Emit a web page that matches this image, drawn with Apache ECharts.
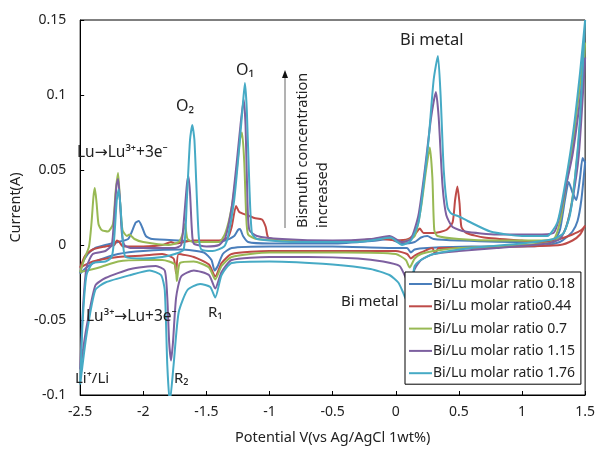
<!DOCTYPE html>
<html>
<head>
<meta charset="utf-8">
<script src="https://cdn.jsdelivr.net/npm/echarts@6/dist/echarts.min.js"></script>
<style>
  html, body { margin: 0; padding: 0; background: #fff; }
  #chart { width: 598px; height: 450px; }
</style>
</head>
<body>
<div id="chart"></div>
<script>
// each loop: cathodic sweep 1.5 -> -2.5, then anodic sweep -2.5 -> 1.5  [potential V, current A]
const ratio018 = [
  [1.5,0.055],[1.47,0.03],[1.44,0.016],[1.4,0.009],[1.35,0.005],[1.3,0.002],[1.2,0.0],[1.0,-0.001],[0.6,-0.001],
  [0.25,-0.002],[0.15,-0.003],[0.12,-0.005],[0.09,-0.002],[0.0,-0.002],[-0.5,-0.001],[-1.0,-0.001],[-1.3,-0.002],
  [-1.37,-0.006],[-1.41,-0.014],[-1.435,-0.017],[-1.46,-0.01],[-1.52,-0.005],[-1.7,-0.003],[-2.0,-0.004],
  [-2.2,-0.006],[-2.35,-0.01],[-2.45,-0.015],[-2.5,-0.019],
  [-2.48,-0.012],[-2.44,-0.006],[-2.38,-0.002],[-2.3,0.0],[-2.2,0.002],[-2.12,0.004],[-2.09,0.009],[-2.06,0.015],
  [-2.036,0.016],[-2.01,0.012],[-1.98,0.006],[-1.93,0.004],[-1.7,0.003],[-1.5,0.002],[-1.35,0.003],[-1.28,0.006],
  [-1.25,0.01],[-1.234,0.0106],[-1.21,0.006],[-1.17,0.002],[-1.0,0.001],[-0.5,0.001],[-0.15,0.003],[-0.05,0.004],
  [0.05,0.001],[0.15,0.002],[0.2,0.005],[0.25,0.006],[0.3,0.004],[0.5,0.003],[1.0,0.002],[1.25,0.003],[1.3,0.01],
  [1.34,0.03],[1.37,0.042],[1.4,0.035],[1.43,0.03],[1.46,0.045],[1.48,0.058],[1.5,0.055]
];
const ratio044 = [
  [1.5,0.013],[1.46,0.007],[1.4,0.003],[1.3,0.0],[1.0,-0.001],[0.5,-0.002],[0.34,-0.002],[0.31,-0.006],[0.29,-0.002],
  [0.2,-0.005],[0.15,-0.007],[0.12,-0.009],[0.09,-0.006],[0.0,-0.004],[-0.5,-0.004],[-1.0,-0.004],[-1.3,-0.006],
  [-1.38,-0.012],[-1.43,-0.021],[-1.48,-0.013],[-1.6,-0.008],[-1.72,-0.006],[-1.74,-0.019],[-1.76,-0.009],
  [-1.85,-0.006],[-2.0,-0.007],[-2.2,-0.008],[-2.4,-0.011],[-2.5,-0.015],
  [-2.46,-0.007],[-2.4,-0.003],[-2.3,-0.001],[-2.23,0.0],[-2.21,0.003],[-2.19,0.002],[-2.16,-0.001],[-2.0,-0.001],
  [-1.85,0.0],[-1.78,0.002],[-1.75,0.001],[-1.6,0.003],[-1.4,0.003],[-1.33,0.005],[-1.3,0.012],[-1.265,0.026],
  [-1.24,0.022],[-1.18,0.02],[-1.12,0.018],[-1.06,0.017],[-1.03,0.012],[-1.01,0.005],[-0.9,0.003],[-0.5,0.002],
  [-0.1,0.004],[0.0,0.003],[0.1,0.004],[0.16,0.008],[0.19,0.011],[0.22,0.008],[0.3,0.008],[0.4,0.01],[0.45,0.015],
  [0.47,0.03],[0.488,0.039],[0.505,0.028],[0.52,0.012],[0.56,0.008],[0.7,0.005],[1.0,0.003],[1.2,0.002],
  [1.3,0.004],[1.4,0.007],[1.47,0.01],[1.5,0.013]
];
const ratio07 = [
  [1.5,0.135],[1.46,0.08],[1.42,0.045],[1.38,0.022],[1.33,0.008],[1.25,0.002],[1.0,0.0],[0.5,-0.002],[0.3,-0.004],
  [0.2,-0.006],[0.15,-0.009],[0.11,-0.015],[0.08,-0.01],[0.0,-0.006],[-0.4,-0.005],[-1.0,-0.005],[-1.3,-0.008],
  [-1.38,-0.014],[-1.43,-0.023],[-1.48,-0.015],[-1.6,-0.011],[-1.71,-0.012],[-1.734,-0.024],[-1.75,-0.013],
  [-1.85,-0.01],[-2.0,-0.01],[-2.2,-0.011],[-2.35,-0.015],[-2.5,-0.018],
  [-2.47,-0.01],[-2.43,-0.001],[-2.41,0.015],[-2.395,0.032],[-2.384,0.038],[-2.37,0.028],[-2.355,0.014],
  [-2.33,0.01],[-2.28,0.009],[-2.24,0.014],[-2.22,0.035],[-2.2,0.048],[-2.185,0.03],[-2.165,0.01],[-2.13,0.006],
  [-2.11,0.007],[-2.07,0.004],[-2.0,0.002],[-1.8,0.0],[-1.72,0.002],[-1.69,0.007],[-1.67,0.014],[-1.65,0.004],
  [-1.6,0.002],[-1.4,0.002],[-1.35,0.008],[-1.3,0.025],[-1.26,0.05],[-1.235,0.07],[-1.218,0.075],[-1.2,0.055],
  [-1.185,0.02],[-1.17,0.007],[-1.1,0.004],[-0.9,0.003],[-0.5,0.002],[-0.15,0.004],[-0.05,0.005],[0.05,0.002],
  [0.15,0.006],[0.2,0.025],[0.24,0.05],[0.27,0.065],[0.29,0.045],[0.305,0.01],[0.33,0.006],[0.5,0.004],
  [0.8,0.003],[1.1,0.003],[1.25,0.004],[1.3,0.015],[1.35,0.04],[1.4,0.065],[1.45,0.1],[1.5,0.135]
];
const ratio115 = [
  [1.5,0.125],[1.45,0.06],[1.4,0.03],[1.35,0.012],[1.3,0.004],[1.2,0.001],[0.8,-0.002],[0.5,-0.004],[0.3,-0.006],
  [0.2,-0.01],[0.15,-0.016],[0.11,-0.026],[0.08,-0.022],[0.03,-0.014],[-0.1,-0.011],[-0.3,-0.009],[-0.7,-0.008],
  [-1.0,-0.008],[-1.3,-0.01],[-1.38,-0.018],[-1.43,-0.029],[-1.48,-0.02],[-1.6,-0.017],[-1.7,-0.021],
  [-1.74,-0.035],[-1.765,-0.065],[-1.78,-0.077],[-1.795,-0.065],[-1.81,-0.035],[-1.83,-0.017],[-1.9,-0.014],
  [-2.1,-0.016],[-2.3,-0.022],[-2.38,-0.027],[-2.45,-0.055],[-2.5,-0.083],
  [-2.48,-0.045],[-2.45,-0.015],[-2.4,-0.006],[-2.3,-0.004],[-2.25,0.0],[-2.23,0.02],[-2.212,0.04],[-2.2,0.044],
  [-2.185,0.03],[-2.17,0.008],[-2.15,0.0],[-2.1,-0.002],[-1.75,-0.002],[-1.7,0.0],[-1.675,0.02],[-1.655,0.04],
  [-1.643,0.046],[-1.63,0.035],[-1.615,0.01],[-1.6,0.001],[-1.5,-0.001],[-1.4,0.0],[-1.35,0.005],[-1.3,0.025],
  [-1.26,0.055],[-1.23,0.08],[-1.205,0.097],[-1.19,0.08],[-1.175,0.03],[-1.16,0.01],[-1.1,0.006],[-0.9,0.004],
  [-0.5,0.003],[-0.2,0.004],[-0.05,0.006],[0.05,0.002],[0.12,0.004],[0.18,0.02],[0.23,0.05],[0.28,0.085],
  [0.318,0.102],[0.34,0.085],[0.37,0.04],[0.4,0.02],[0.45,0.012],[0.55,0.009],[0.8,0.007],[1.1,0.007],
  [1.25,0.008],[1.3,0.02],[1.35,0.04],[1.4,0.06],[1.45,0.09],[1.5,0.125]
];
const ratio176 = [
  [1.5,0.15],[1.46,0.085],[1.42,0.045],[1.38,0.02],[1.33,0.008],[1.25,0.004],[1.0,0.001],[0.6,-0.002],[0.3,-0.006],
  [0.2,-0.01],[0.15,-0.014],[0.13,-0.024],[0.1,-0.033],[0.08,-0.036],[0.06,-0.032],[0.02,-0.025],[-0.05,-0.02],
  [-0.2,-0.016],[-0.5,-0.013],[-1.0,-0.011],[-1.3,-0.012],[-1.38,-0.02],[-1.43,-0.035],[-1.47,-0.028],
  [-1.55,-0.026],[-1.65,-0.03],[-1.72,-0.045],[-1.76,-0.08],[-1.79,-0.105],[-1.81,-0.08],[-1.83,-0.03],
  [-1.86,-0.02],[-1.95,-0.017],[-2.1,-0.02],[-2.3,-0.025],[-2.38,-0.03],[-2.45,-0.06],[-2.5,-0.093],
  [-2.48,-0.05],[-2.45,-0.02],[-2.4,-0.012],[-2.3,-0.011],[-2.25,-0.008],[-2.23,0.005],[-2.21,0.03],
  [-2.195,0.037],[-2.18,0.025],[-2.16,0.0],[-2.14,-0.008],[-2.0,-0.009],[-1.85,-0.008],[-1.75,-0.006],
  [-1.68,-0.003],[-1.655,0.03],[-1.63,0.07],[-1.612,0.08],[-1.595,0.07],[-1.575,0.03],[-1.56,0.005],
  [-1.54,-0.003],[-1.45,-0.004],[-1.36,-0.001],[-1.33,0.005],[-1.28,0.03],[-1.24,0.065],[-1.21,0.095],
  [-1.195,0.108],[-1.18,0.09],[-1.16,0.04],[-1.14,0.008],[-1.1,0.004],[-0.8,0.002],[-0.3,0.002],[-0.12,0.004],
  [-0.04,0.005],[0.05,0.0],[0.12,0.003],[0.18,0.015],[0.22,0.04],[0.26,0.07],[0.3,0.11],[0.334,0.126],
  [0.355,0.1],[0.38,0.05],[0.41,0.025],[0.44,0.021],[0.5,0.019],[0.57,0.016],[0.75,0.009],[1.0,0.006],
  [1.2,0.006],[1.28,0.015],[1.33,0.035],[1.38,0.06],[1.42,0.085],[1.46,0.115],[1.5,0.15]
];

const seriesNames = ['Bi/Lu molar ratio 0.18', 'Bi/Lu molar ratio0.44', 'Bi/Lu molar ratio 0.7',
  'Bi/Lu molar ratio 1.15', 'Bi/Lu molar ratio 1.76'];
const seriesData = [ratio018, ratio044, ratio07, ratio115, ratio176];
const colors = ['#4a7ebb', '#be4b48', '#98b954', '#7d60a0', '#46aac5'];

const font = '"Noto Sans", "DejaVu Sans", sans-serif';
const chart = echarts.init(document.getElementById('chart'));

function label(text, x, y, size) {
  return {
    type: 'text', x: x, y: y, z: 100,
    style: { text: text, fill: '#222', font: (size || 14) + 'px ' + font, textAlign: 'left', textVerticalAlign: 'middle' }
  };
}

chart.setOption({
  animation: false,
  color: colors,
  grid: { left: 69, top: 20, right: 11, bottom: 53, show: true, borderColor: '#000', borderWidth: 1 },
  xAxis: {
    type: 'value', min: -2.5, max: 1.5, interval: 0.5,
    name: 'Potential V(vs Ag/AgCl 1wt%)', nameLocation: 'middle', nameGap: 35,
    nameTextStyle: { fontSize: 14.5, color: '#222', fontFamily: font },
    axisLine: { onZero: false, lineStyle: { color: '#000' } },
    axisTick: { inside: true, length: 4, lineStyle: { color: '#000' } },
    axisLabel: { fontSize: 14, color: '#222', margin: 10, fontFamily: font },
    splitLine: { show: false }
  },
  yAxis: {
    type: 'value', min: -0.1, max: 0.15, interval: 0.05,
    name: 'Current(A)', nameLocation: 'middle', nameGap: 48,
    nameTextStyle: { fontSize: 14.5, color: '#222', fontFamily: font },
    axisLine: { onZero: false, lineStyle: { color: '#000' } },
    axisTick: { inside: true, length: 4, lineStyle: { color: '#000' } },
    axisLabel: { fontSize: 14, color: '#222', margin: 14, fontFamily: font },
    splitLine: { show: false }
  },
  legend: {
    orient: 'vertical', left: 405, top: 272, width: 170,
    padding: [5, 6, 4, 4], itemGap: 8.3, itemWidth: 23, itemHeight: 2, icon: 'rect',
    backgroundColor: '#fff', borderColor: '#000', borderWidth: 1,
    textStyle: { fontSize: 14, color: '#222', fontFamily: font, padding: [0, 0, 0, -4] },
    data: seriesNames
  },
  series: seriesData.map((d, i) => ({
    name: seriesNames[i], type: 'line', data: d, showSymbol: false, smooth: 0.2,
    lineStyle: { width: 2, color: colors[i] }, itemStyle: { color: colors[i] }
  })),
  graphic: [
    label('Bi metal', 400, 40, 16.5),
    label('O\u2081', 236, 70, 16),
    label('O\u2082', 176, 106, 16),
    label('Lu\u2192Lu\u00b3\u207a+3e\u207b', 77, 153, 15.5),
    label('Bi metal', 341, 302, 15),
    label('R\u2081', 208, 313, 15),
    label('Lu\u00b3\u207a\u2192Lu+3e\u207b', 86, 317, 15.5),
    label('Li\u207a/Li', 75, 379, 15),
    label('R\u2082', 174, 379, 15),
    { type: 'line', shape: { x1: 285, y1: 228, x2: 285, y2: 76 }, style: { stroke: '#666', lineWidth: 1 } },
    { type: 'polygon', shape: { points: [[285, 70], [282, 78], [288, 78]] }, style: { fill: '#111' } },
    { type: 'text', x: 303, y: 228, rotation: Math.PI / 2,
      style: { text: 'Bismuth concentration', fill: '#222', font: '14.5px ' + font, textAlign: 'left', textVerticalAlign: 'middle' } },
    { type: 'text', x: 323, y: 228, rotation: Math.PI / 2,
      style: { text: 'increased', fill: '#222', font: '14.5px ' + font, textAlign: 'left', textVerticalAlign: 'middle' } }
  ]
});
</script>
</body>
</html>
